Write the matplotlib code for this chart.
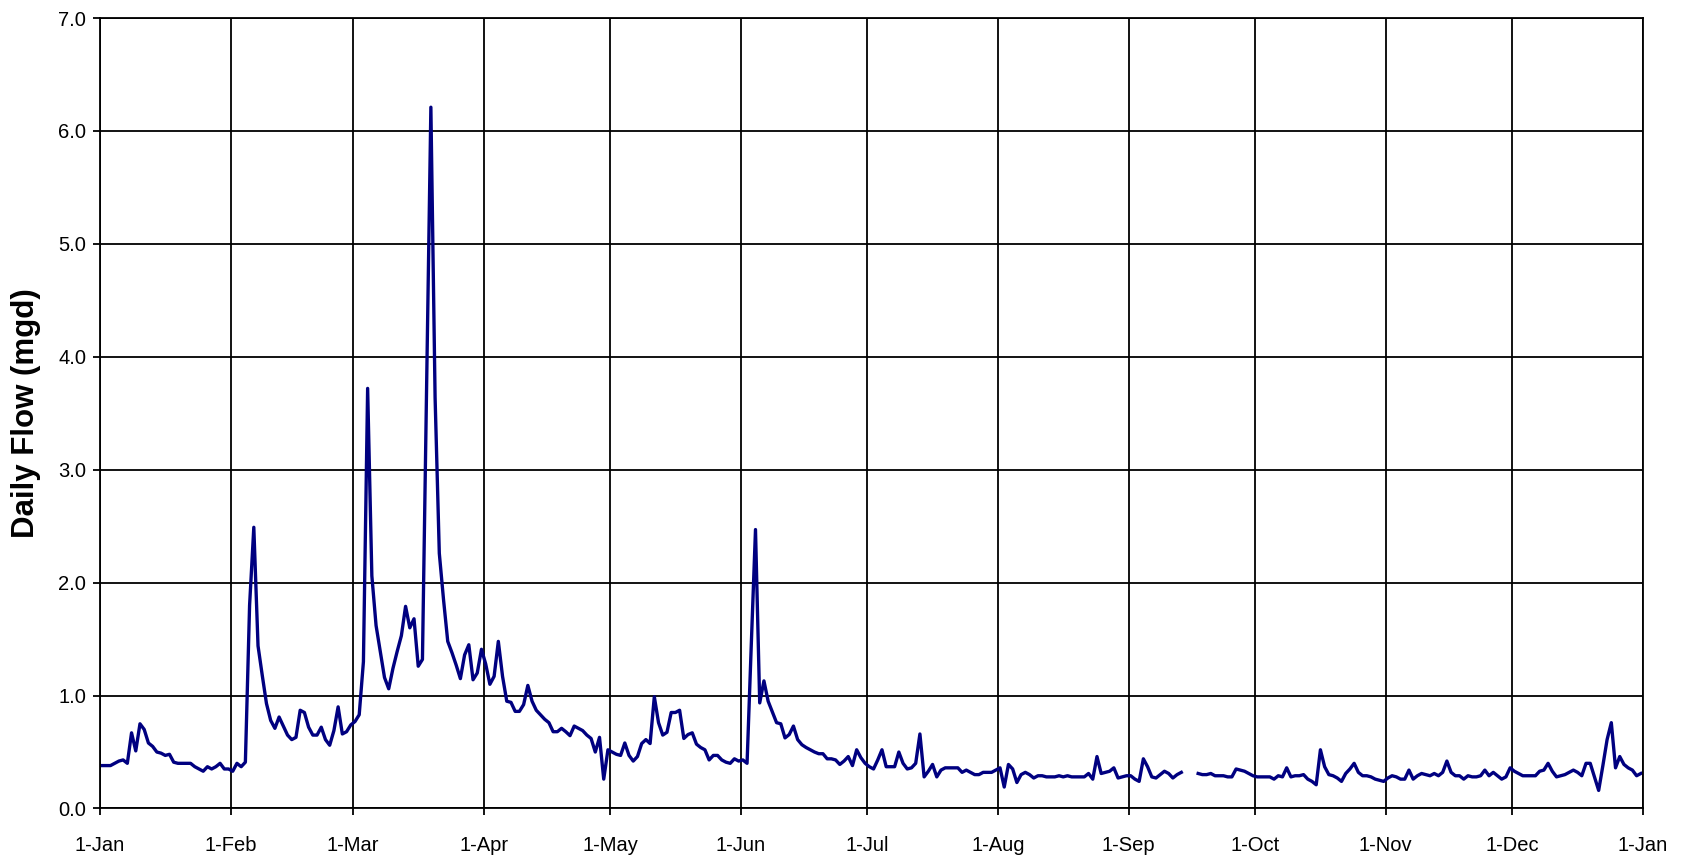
import numpy as np
import matplotlib
matplotlib.use('Agg')
import matplotlib.pyplot as plt
import matplotlib.dates as mdates

# daily flow (mgd), one value per day of a leap year, gap in mid-September
jan = [0.38, 0.38, 0.38, 0.40, 0.42, 0.43, 0.40, 0.67, 0.51, 0.75,
       0.70, 0.58, 0.55, 0.50, 0.49, 0.47, 0.48, 0.41, 0.40, 0.40,
       0.40, 0.40, 0.37, 0.35, 0.33, 0.37, 0.35, 0.37, 0.40, 0.35,
       0.35]
feb = [0.33, 0.40, 0.37, 0.41, 1.80, 2.49, 1.44, 1.18, 0.93, 0.78,
       0.71, 0.81, 0.73, 0.65, 0.61, 0.63, 0.87, 0.85, 0.72, 0.65,
       0.65, 0.72, 0.61, 0.56, 0.69, 0.90, 0.66, 0.68, 0.74]
mar = [0.77, 0.83, 1.30, 3.72, 2.06, 1.62, 1.39, 1.16, 1.06, 1.24,
       1.39, 1.53, 1.79, 1.60, 1.68, 1.26, 1.32, 3.77, 6.21, 3.64,
       2.26, 1.85, 1.48, 1.38, 1.27, 1.15, 1.36, 1.45, 1.14, 1.20,
       1.41]
apr = [1.28, 1.10, 1.17, 1.48, 1.17, 0.95, 0.94, 0.86, 0.86, 0.92,
       1.09, 0.95, 0.87, 0.83, 0.79, 0.76, 0.68, 0.68, 0.71, 0.68,
       0.645, 0.73, 0.71, 0.69, 0.65, 0.62, 0.50, 0.63, 0.26, 0.52]
may = [0.50, 0.48, 0.47, 0.58, 0.47, 0.42, 0.46, 0.575, 0.61, 0.575,
       0.99, 0.76, 0.65, 0.675, 0.85, 0.85, 0.87, 0.62, 0.655, 0.67,
       0.57, 0.54, 0.52, 0.43, 0.47, 0.47, 0.43, 0.41, 0.40, 0.44,
       0.42]
jun = [0.43, 0.40, 1.45, 2.47, 0.935, 1.13, 0.95, 0.855, 0.76, 0.75,
       0.625, 0.655, 0.73, 0.61, 0.565, 0.54, 0.52, 0.50, 0.485, 0.485,
       0.44, 0.44, 0.43, 0.39, 0.42, 0.46, 0.38, 0.52, 0.45, 0.40]
jul = [0.37, 0.35, 0.43, 0.52, 0.37, 0.37, 0.37, 0.50, 0.40, 0.35,
       0.36, 0.40, 0.66, 0.28, 0.33, 0.39, 0.28, 0.34, 0.36, 0.36,
       0.36, 0.36, 0.32, 0.34, 0.32, 0.30, 0.30, 0.32, 0.32, 0.32,
       0.34]
aug = [0.36, 0.19, 0.39, 0.35, 0.23, 0.30, 0.32, 0.30, 0.27, 0.29,
       0.29, 0.28, 0.28, 0.28, 0.29, 0.28, 0.29, 0.28, 0.28, 0.28,
       0.28, 0.31, 0.26, 0.46, 0.31, 0.32, 0.33, 0.36, 0.27, 0.28,
       0.29]
sep = [0.29, 0.26, 0.24, 0.44, 0.37, 0.28, 0.27, 0.30, 0.33, 0.31,
       0.27, 0.30, 0.32, np.nan, np.nan, np.nan, 0.31, 0.30, 0.30, 0.31,
       0.29, 0.29, 0.29, 0.28, 0.28, 0.35, 0.34, 0.33, 0.31, 0.29]
oct_ = [0.28, 0.28, 0.28, 0.28, 0.26, 0.29, 0.28, 0.36, 0.28, 0.29,
        0.29, 0.30, 0.26, 0.24, 0.21, 0.52, 0.37, 0.30, 0.29, 0.27,
        0.24, 0.31, 0.35, 0.40, 0.32, 0.29, 0.29, 0.28, 0.26, 0.25,
        0.24]
nov = [0.27, 0.29, 0.28, 0.26, 0.26, 0.34, 0.26, 0.29, 0.31, 0.30,
       0.29, 0.31, 0.29, 0.32, 0.42, 0.32, 0.29, 0.29, 0.26, 0.29,
       0.28, 0.28, 0.29, 0.34, 0.29, 0.32, 0.29, 0.26, 0.28, 0.36]
dec = [0.33, 0.31, 0.29, 0.29, 0.29, 0.29, 0.33, 0.34, 0.40, 0.33,
       0.28, 0.29, 0.30, 0.32, 0.34, 0.32, 0.29, 0.40, 0.40, 0.28,
       0.16, 0.38, 0.61, 0.76, 0.36, 0.46, 0.39, 0.36, 0.34, 0.29,
       0.31]

month_labels = ['1-Jan', '1-Feb', '1-Mar', '1-Apr', '1-May', '1-Jun', '1-Jul',
                '1-Aug', '1-Sep', '1-Oct', '1-Nov', '1-Dec', '1-Jan']

flow = np.array(jan + feb + mar + apr + may + jun + jul + aug + sep + oct_ + nov + dec)
days = np.arange('2008-01-01', '2009-01-01', dtype='datetime64[D]')
# points sit in the middle of each day
x = days.astype('datetime64[h]') + np.timedelta64(12, 'h')

plt.rcParams['font.family'] = ['Liberation Sans', 'DejaVu Sans']

fig = plt.figure(figsize=(16.88, 8.58), dpi=100)
ax = fig.add_axes([0.0592, 0.0577, 0.9141, 0.9213])

ax.plot(x, flow, color='#000080', lw=2.4)

ax.set_xlim(np.datetime64('2008-01-01'), np.datetime64('2009-01-01'))
ax.set_ylim(0, 7)

ax.xaxis.set_major_locator(mdates.MonthLocator())
ax.set_xticks(ax.get_xticks())
ax.set_xticklabels(month_labels)
ax.set_yticks(np.arange(0, 8, 1.0))
ax.set_yticklabels(['%.1f' % v for v in np.arange(0, 8, 1.0)])

ax.grid(True, color='black', lw=1.3)
ax.tick_params(axis='both', direction='out', length=5, width=1.3,
               labelsize=14.5, color='black')
ax.tick_params(axis='x', pad=15)
ax.tick_params(axis='y', pad=5)
for s in ax.spines.values():
    s.set_linewidth(1.3)
    s.set_color('black')

ax.set_ylabel('Daily Flow (mgd)', fontsize=22.5, fontweight='bold', labelpad=12)

fig.savefig('out.png', dpi=100)
